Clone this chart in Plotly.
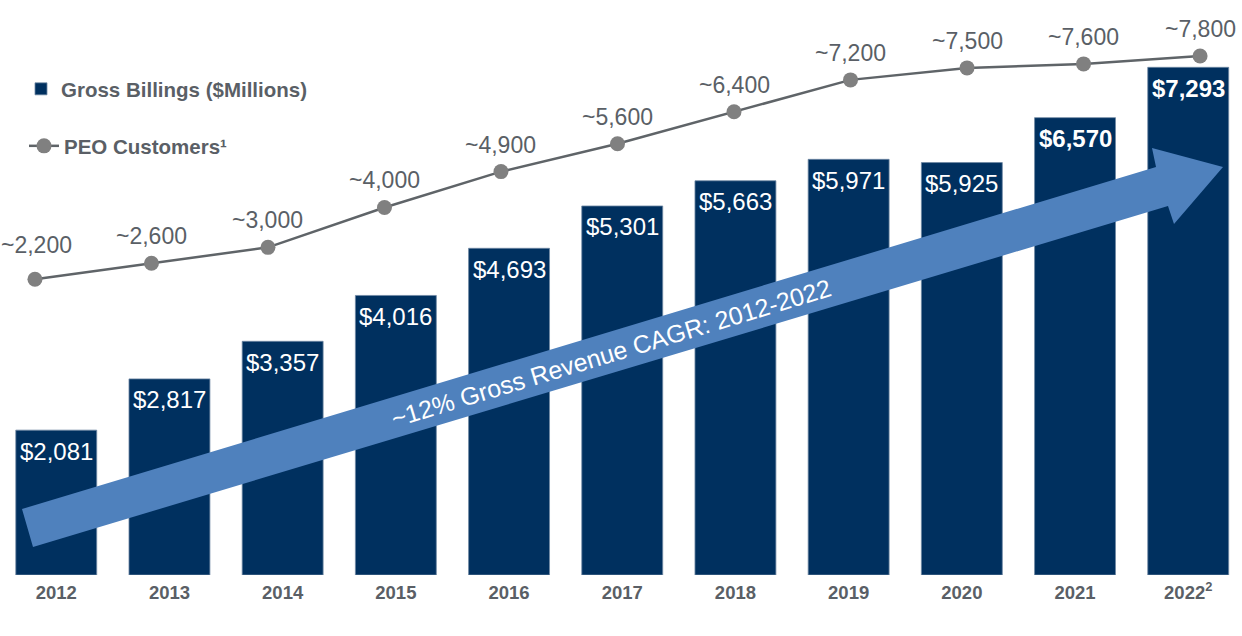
import plotly.graph_objects as go

# ---------------- data ----------------
years = ["2012", "2013", "2014", "2015", "2016", "2017", "2018", "2019", "2020", "2021", "2022"]
tick_labels = ["2012", "2013", "2014", "2015", "2016", "2017", "2018", "2019", "2020", "2021", "2022<sup>2</sup>"]
gross_billings = [2081, 2817, 3357, 4016, 4693, 5301, 5663, 5971, 5925, 6570, 7293]
peo_customers = [2200, 2600, 3000, 4000, 4900, 5600, 6400, 7200, 7500, 7600, 7800]
bold_years = ["2021", "2022"]
bar_name = "Gross Billings ($Millions)"
line_name = "PEO Customers¹"
arrow_label = "~12% Gross Revenue CAGR: 2012-2022"

# ---------------- style ----------------
W, H = 1242, 636
ML, MR, MT, MB = 0, 0, 0, 61
PW, PH = W - ML - MR, H - MT - MB
FONT = "Arial, Liberation Sans, sans-serif"
BAR_COLOR = "#00305f"
ARROW_COLOR = "#4f81bd"
LINE_COLOR = "#5f6468"
MARKER_COLOR = "#808080"
TEXT_GRAY = "#5a5f66"


def paper(px, py):
    return (px - ML) / PW, (MT + PH - py) / PH


fig = go.Figure()

fig.add_trace(go.Bar(
    x=years, y=gross_billings, name=bar_name,
    marker=dict(color=BAR_COLOR, line=dict(color="#6f88a3", width=0.8)),
    width=0.715, legend="legend", hoverinfo="x+y",
))

fig.add_trace(go.Scatter(
    x=years, y=peo_customers, name=line_name,
    mode="lines+markers", xaxis="x2", yaxis="y2",
    line=dict(color=LINE_COLOR, width=2.5),
    marker=dict(color=MARKER_COLOR, size=15),
    legend="legend2", cliponaxis=False,
))

annotations = []
for i, (yr, v) in enumerate(zip(years, gross_billings)):
    txt = "${:,}".format(v)
    if yr in bold_years:
        txt = "<b>" + txt + "</b>"
    annotations.append(dict(
        x=i, y=v, xref="x", yref="y", text=txt, showarrow=False,
        yanchor="middle", xanchor="center", yshift=-21,
        font=dict(family=FONT, size=24, color="white"),
    ))

for i, v in enumerate(peo_customers):
    annotations.append(dict(
        x=i, y=v, xref="x2", yref="y2", text="~{:,}".format(v), showarrow=False,
        yanchor="middle", xanchor="center", yshift=34 if i == 0 else 27,
        xshift=2 if i == 0 else 0,
        font=dict(family=FONT, size=23, color=TEXT_GRAY),
    ))

# growth arrow (decoration)
arrow_px = [(22, 509), (1156, 167), (1152, 148), (1223, 167), (1174, 224), (1168, 206), (33, 547)]
pts = [paper(x, y) for x, y in arrow_px]
path = "M " + " L ".join("{:.5f},{:.5f}".format(a, b) for a, b in pts) + " Z"
fig.add_shape(type="path", path=path, xref="paper", yref="paper",
              fillcolor=ARROW_COLOR, line=dict(width=0), layer="above")

cx, cy = paper(611, 353)
annotations.append(dict(
    x=cx, y=cy, xref="paper", yref="paper", text=arrow_label, showarrow=False,
    textangle=-16.8, xanchor="center", yanchor="middle",
    font=dict(family=FONT, size=25, color="white"),
))

lx1, ly1 = paper(21, 89)
lx2, ly2 = paper(24, 146)

fig.update_layout(
    width=W, height=H,
    margin=dict(l=ML, r=MR, t=MT, b=MB),
    plot_bgcolor="white", paper_bgcolor="white",
    font=dict(family=FONT, color=TEXT_GRAY),
    annotations=annotations,
    showlegend=True,
    legend=dict(x=lx1, y=ly1, xanchor="left", yanchor="middle",
                bgcolor="rgba(0,0,0,0)",
                font=dict(family=FONT, size=20.5, color=TEXT_GRAY, weight="bold")),
    legend2=dict(x=lx2, y=ly2, xanchor="left", yanchor="middle",
                 bgcolor="rgba(0,0,0,0)",
                 font=dict(family=FONT, size=20.5, color=TEXT_GRAY, weight="bold")),
    xaxis=dict(type="category", range=[-0.497, 10.475], tickvals=years, ticktext=tick_labels,
               showgrid=False, zeroline=False, showline=False, ticks="",
               ticklabelstandoff=4,
               tickfont=dict(family=FONT, size=18.5, color=TEXT_GRAY, weight="bold")),
    xaxis2=dict(type="category", overlaying="x", range=[-0.30, 10.36], visible=False),
    yaxis=dict(range=[0, 8260], visible=False, showgrid=False),
    yaxis2=dict(range=[-5216, 9203], overlaying="y", visible=False, showgrid=False),
    bargap=0.285,
)

fig.write_html("out.html", config={"displayModeBar": False},
               post_script="document.body.style.margin='0';document.body.style.overflow='hidden';")
